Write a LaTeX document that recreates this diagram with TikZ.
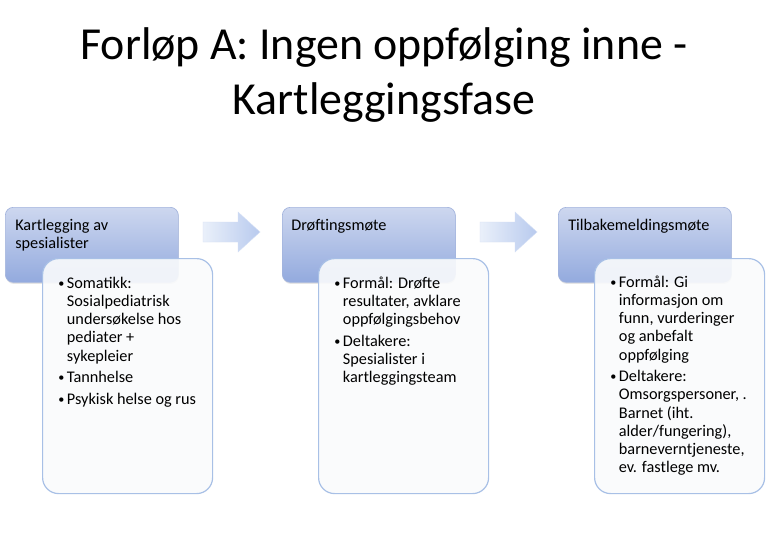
\documentclass[tikz,border=0pt]{standalone}
\usepackage{fontspec}
\setmainfont{Carlito}
\usetikzlibrary{positioning,shadows}
\definecolor{hodetopp}{HTML}{CDD7EF}
\definecolor{hodebunn}{HTML}{93AADE}
\definecolor{hodekant}{HTML}{A3B4DD}
\definecolor{boksekant}{HTML}{A8C0E6}
\definecolor{boksefyll}{HTML}{FAFBFC}
\definecolor{pilvenstre}{HTML}{EAF0FA}
\definecolor{pilhoyre}{HTML}{B8CAEE}

% one bullet point with hanging indent
\newcommand{\punkt}[1]{\par\hangindent=6.5pt\hangafter=1\noindent
  \makebox[6.5pt][l]{\raisebox{0.6pt}{\scalebox{0.75}{\textbullet}}}#1\par}

\begin{document}
\begin{tikzpicture}[x=0.75pt,y=-0.75pt,
	hode/.style={draw=hodekant, line width=0.5pt, rounded corners=6pt,
		top color=hodetopp, bottom color=hodebunn,
		minimum width=129.75pt, minimum height=56.25pt,
		anchor=north west, inner sep=0pt,
		drop shadow={opacity=0.2,shadow xshift=0.4pt,shadow yshift=-1.2pt}},
	detalj/.style={draw=boksekant, line width=0.9pt, rounded corners=12pt,
		fill=boksefyll, fill opacity=0.9,
		minimum width=127.5pt, minimum height=176.25pt,
		anchor=north west, inner sep=0pt},
	tekst/.style={anchor=base west, inner sep=0pt,
		font=\fontsize{12.2}{13.7}\selectfont},
	tittel/.style={anchor=base, inner sep=0pt,
		font=\fontsize{34.4}{41}\selectfont},
	pil/.style={draw=pilhoyre!60, line width=0.3pt,
		left color=pilvenstre, right color=pilhoyre}]

	\fill[white] (0,0) rectangle (768,560);
	\useasboundingbox (0,0) rectangle (768,560);

	% title
	\node[tittel] (tittel1) at (384,60) {Forløp A: Ingen oppfølging inne -};
	\node[tittel] (tittel2) at (384,115) {Kartleggingsfase};

	% block arrows
	\foreach \x in {203,480}
		\draw[pil] (\x,222) -- ++(35,0) -- ++(0,-10) -- ++(22,20)
			-- ++(-22,20) -- ++(0,-10) -- ++(-35,0) -- cycle;

	% step 1
	\node[hode] (hode1) at (5,207) {};
	\node[tekst] (hodetekst1) at (15,230)
		{\parbox[t]{150pt}{\raggedright Kartlegging av\\spesialister}};
	\node[detalj] (detalj1) at (42,258) {};
	\node[tekst] (punkter1) at (58,288)
		{\parbox[t]{140pt}{\raggedright\parskip=2.4pt
			\punkt{Somatikk:\newline Sosialpediatrisk\newline undersøkelse hos\newline pediater +\newline sykepleier}
			\punkt{Tannhelse}
			\punkt{Psykisk helse og rus}}};

	% step 2
	\node[hode] (hode2) at (282,207) {};
	\node[tekst] (hodetekst2) at (291,230) {Drøftingsmøte};
	\node[detalj] (detalj2) at (318,258) {};
	\node[tekst] (punkter2) at (334,288)
		{\parbox[t]{140pt}{\raggedright\parskip=2.4pt
			\punkt{Formål: Drøfte\newline resultater, avklare\newline oppfølgingsbehov}
			\punkt{Deltakere:\newline Spesialister i\newline kartleggingsteam}}};

	% step 3
	\node[hode] (hode3) at (558,207) {};
	\node[tekst] (hodetekst3) at (568,230) {Tilbakemeldingsmøte};
	\node[detalj] (detalj3) at (594,258) {};
	\node[tekst] (punkter3) at (610,287)
		{\parbox[t]{140pt}{\raggedright\parskip=2.4pt
			\punkt{Formål: Gi\newline informasjon om\newline funn, vurderinger\newline og anbefalt\newline oppfølging}
			\punkt{Deltakere:\newline Omsorgspersoner, .\newline Barnet (iht.\newline alder/fungering),\newline barneverntjeneste,\newline ev. fastlege mv.}}};
\end{tikzpicture}
\end{document}
